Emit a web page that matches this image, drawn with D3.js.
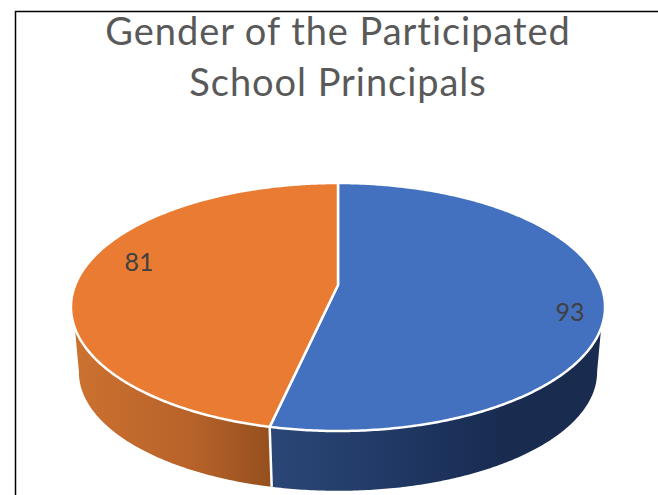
<!DOCTYPE html>
<html>
<head>
<meta charset="utf-8">
<script src="https://cdn.jsdelivr.net/npm/d3@7/dist/d3.min.js"></script>
<style>
html,body{margin:0;padding:0;background:#fff;overflow:hidden}
svg{display:block}
</style>
</head>
<body>
<script>
const titleLines = ["Gender of the Participated", "School Principals"];
const sliceValues = [93, 81];
const sliceColors = ["#4371BF", "#E97C32"];

const W = 658, H = 495;
const TOP = {cx: 338, cy: 285, r: 262.8, ry: 120.1, k: 0.1774};
const BOT = {cx: 338, cy: 351, r: 255, ry: 115, k: 0.1774};
const project = (p, a) => {
  const u = Math.sin(a), v = -Math.cos(a), d = 1 - p.k * v;
  return [p.cx + p.r * u / d, p.cy + p.ry * v / d];
};
const arcPts = (p, a0, a1) => {
  const n = Math.max(2, Math.ceil(Math.abs(a1 - a0) / 0.01));
  return d3.range(n + 1).map(i => project(p, a0 + (a1 - a0) * i / n));
};
const line = d3.line();
const rad = d => d * Math.PI / 180;

const svg = d3.select("body").append("svg").attr("width", W).attr("height", H);
const defs = svg.append("defs");
const grad = (id, x1, x2, stops) => {
  const g = defs.append("linearGradient").attr("id", id)
    .attr("gradientUnits", "userSpaceOnUse")
    .attr("x1", x1).attr("x2", x2).attr("y1", 0).attr("y2", 0);
  stops.forEach(([o, c]) => g.append("stop").attr("offset", o).attr("stop-color", c));
};
grad("sideBlue", 270, 602, [[0, "#2B4777"], [0.45, "#1E3560"], [0.7, "#192C50"], [1, "#192C50"]]);
grad("sideOrange", 73, 270, [[0, "#CC7230"], [0.6, "#B8622A"], [1, "#95501E"]]);

svg.append("rect").attr("width", W).attr("height", H).attr("fill", "#fff");
svg.append("path").attr("d", "M15.5,495V11.5H658").attr("fill", "none").attr("stroke", "#000").attr("stroke-width", 1.5);

const arcs = d3.pie().sort(null)(sliceValues);
const seam = arcs[0].endAngle;
const sideSpecs = [
  {fill: "url(#sideBlue)", top: [rad(109.7), seam], bot: [seam, rad(100)]},
  {fill: "url(#sideOrange)", top: [seam, rad(250.3)], bot: [rad(260), seam]}
];
sideSpecs.forEach(s => {
  svg.append("path")
    .attr("d", line(arcPts(TOP, s.top[0], s.top[1]).concat(arcPts(BOT, s.bot[0], s.bot[1]))) + "Z")
    .attr("fill", s.fill);
});
// seam on the wall
svg.append("path")
  .attr("d", line([project(TOP, seam), project(BOT, seam)]))
  .attr("stroke", "#fff").attr("stroke-width", 2.5).attr("fill", "none");

// top face
svg.selectAll("path.slice").data(arcs).join("path").attr("class", "slice")
  .attr("d", d => line([[TOP.cx, TOP.cy]].concat(arcPts(TOP, d.startAngle, d.endAngle))) + "Z")
  .attr("fill", (d, i) => sliceColors[i])
  .attr("stroke", "#fff").attr("stroke-width", 2.5).attr("stroke-linejoin", "round");

const labelPos = [[570, 312], [139, 262]];
svg.selectAll("text.val").data(arcs).join("text").attr("class", "val")
  .attr("x", (d, i) => labelPos[i][0]).attr("y", (d, i) => labelPos[i][1])
  .attr("dy", "0.35em").attr("text-anchor", "middle")
  .attr("font-family", "Lato, sans-serif").attr("font-size", 25).attr("fill", "#404040")
  .text(d => d.value);

svg.selectAll("text.title").data(titleLines).join("text").attr("class", "title")
  .attr("x", 338).attr("y", (d, i) => 45 + i * 51)
  .attr("text-anchor", "middle")
  .attr("font-family", "Lato, sans-serif").attr("font-size", 38).attr("fill", "#595959")
  .attr("letter-spacing", 0.95)
  .text(d => d);
</script>
</body>
</html>
